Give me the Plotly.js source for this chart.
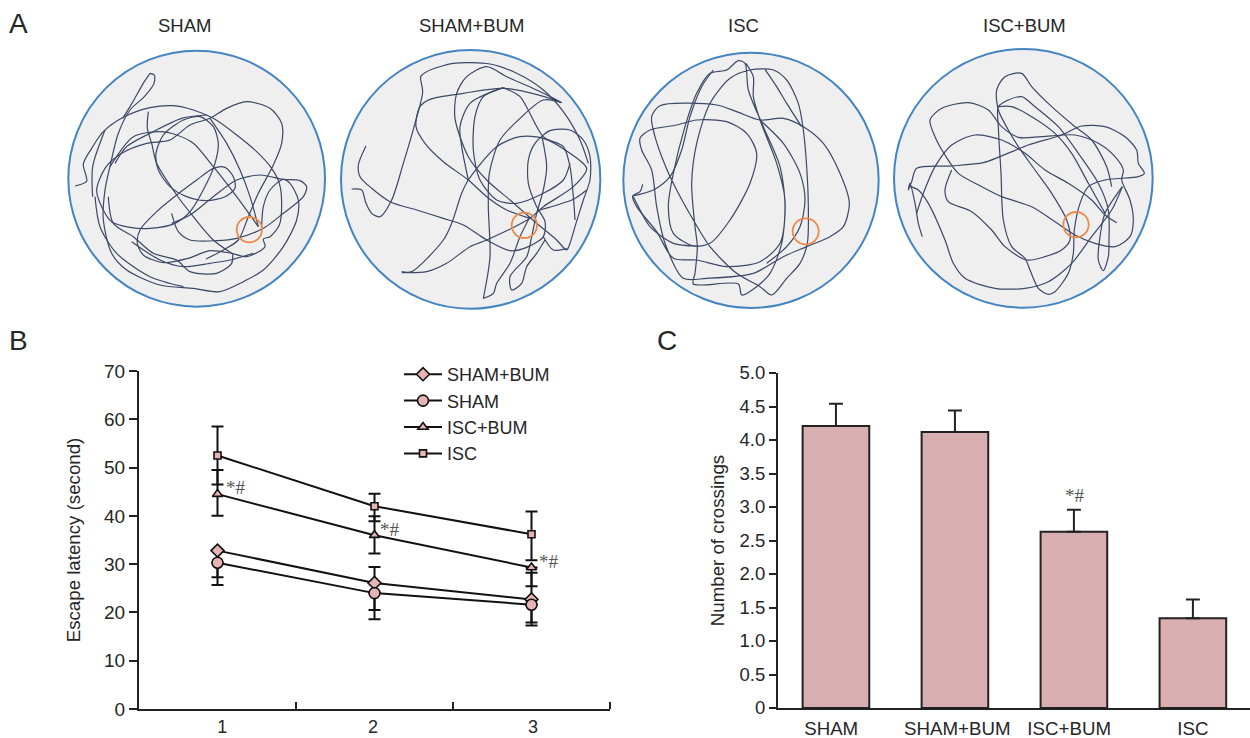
<!DOCTYPE html>
<html><head><meta charset="utf-8">
<script src="https://cdn.plot.ly/plotly-3.0.1.min.js"></script>
<style>html,body{margin:0;padding:0;background:#fff}#g{width:1250px;height:738px}</style>
</head><body><div id="g"></div>
<script>
// Panel B
const days=[1,2,3];
const dayTickPos=[1.03,1.99,3.01];
const dayTickText=['1','2','3'];
const isc=[52.5,42,36.2], iscUp=[6,2.6,4.7], iscDn=[6,3.1,5.4];
const iscBum=[44.5,36,29.3], iscBumUp=[5,3.9,0], iscBumDn=[4.5,3.8,3.9];
const shamBum=[32.8,26.1,22.7], shamBumUp=[0,3.3,5.5], shamBumDn=[5.5,5.6,4.8];
const sham=[30.3,24,21.6], shamUp=[0,0,0], shamDn=[4.6,5.4,4.3];
// Panel C
const groupPos=[0,1,2,3];
const groupTickPos=[-0.04,1.02,1.96,3];
const groupNames=['SHAM','SHAM+BUM','ISC+BUM','ISC'];
const crossings=[4.21,4.12,2.63,1.34];
const crossingsErr=[0.33,0.32,0.33,0.28];
// Panel A traced swim paths (null = strand gap)
const shamPath=[[75,438],[110,424],[100,372],[125,325],[160,275],[220,232],[300,203],[370,197],[430,210],[490,235],[560,285],[620,335],[665,385],[688,430],[695,490],[688,555],[660,590],[640,597],[645,620],[590,650],[545,640],[480,632],[415,655],[340,668],[280,645],[262,610],[270,570],[320,515],[380,465],[440,420],[490,385],[525,382],[550,410],[555,445],[525,470],[470,482],[410,470],[360,440],[325,390],[318,340],[340,285],[400,240],[450,230],[490,260],[505,310],[495,370],[470,430],[420,515],[375,550],[300,565],[240,562],[185,545],[155,500],[140,450],[165,385],[215,340],[290,310],[360,300],[420,255],[480,235],[530,205],[590,185],[660,205],[695,250],[695,310],[670,375],[625,460],[595,530],[565,600],[520,630],[468,657],null,
[300,100],[313,105],[312,130],[283,170],[240,210],[205,280],[182,370],[165,450],[160,540],[185,640],[230,690],[330,735],[430,745],[510,755],[580,725],[640,690],[700,620],[740,540],[745,480],[720,430],[700,418],[660,450],[640,500],[635,560],null,
[300,100],[283,125],[240,200],[218,235],null,
[295,215],[292,265],[305,310],[320,370],[380,465],[430,530],[490,600],[545,640],null,
[365,520],[385,575],[420,600],[500,602],[560,595],[640,565],[700,520],[760,470],[770,440],[750,422],[700,418],[630,405],[560,420],[490,470],[420,525],[365,550],null,
[128,470],[128,380],[165,270],null,
[180,380],[250,290],[330,275],[380,285],[430,310],[490,380],[560,470],[625,560],null,
[480,235],[530,310],[570,390],[600,470],[625,560],null,
[175,470],[190,550],[250,590],[310,640],[380,660],[420,695],[500,700],[545,670],[548,640],null,
[135,470],[150,560],[200,640],[300,710],[400,740],null,
[245,605],[330,660],[400,680],[480,670],[540,660],[610,640],null,
[195,370],[230,320],[300,280],[395,235],[470,225]];
const shamBumPath=[[108,318],[85,375],[90,410],[125,445],[180,485],[260,510],[340,535],[400,555],[470,600],[540,632],[590,622],[640,590],[645,545],[620,500],[595,430],[595,360],[615,310],[660,272],[720,270],[760,300],[780,350],[780,420],[760,480],[735,560],[720,610],[710,630],[680,600],[620,550],[540,480],[470,420],[415,350],[375,235],[380,160],[410,110],[470,80],[530,110],[620,150],[695,188],[660,175],[520,145],[400,160],[300,178],[270,200],[258,260],[285,310],[340,365],[415,420],[470,470],[530,510],[600,535],null,
[65,447],[95,450],[108,490],[125,520],[150,530],[185,480],[220,370],[255,250],[278,155],[272,110],[290,95],[370,70],[480,72],[560,100],[640,150],[700,215],[750,300],[775,370],null,
[215,695],[245,695],[340,600],[365,550],[395,460],[415,420],[500,320],[570,290],[640,295],[720,340],[770,385],[730,440],[640,500],[600,535],[470,600],[420,620],[350,670],[290,695],[215,698],null,
[630,510],[730,478],[770,450],null,
[636,290],[650,380],[640,450],[620,520],[605,590],[590,650],[540,710],[545,750],[575,730],[590,680],[620,640],[645,600],null,
[460,775],[480,650],[475,500],[478,400],[510,300],[570,235],[640,180],[695,188],null,
[460,775],[490,760],[500,730],[540,670],[570,590],[600,530],null,
[520,143],[570,170],[640,290],[700,320],[720,380],[730,470],[735,540],null,
[520,143],[460,170],[435,230],[430,330],[450,420],[500,480],[560,490],[640,460],[700,420],[720,370],null,
[520,143],[420,190],[390,260],[395,320],[415,420],null,
[640,590],[670,630],[710,625]];
const iscPath=[[98,433],[90,455],[68,468],[80,500],[140,575],[190,655],[260,660],[350,680],[450,665],[510,610],[525,500],[510,380],[460,260],[415,150],[405,70],[385,62],[350,90],[300,100],[260,160],[225,260],[190,400],[175,500],[190,580],[250,618],[300,610],[360,540],[420,430],[440,340],[410,280],[350,245],[260,240],[200,255],[120,270],[90,295],[95,330],[125,390],[140,500],[165,610],[220,715],[290,715],[430,700],[520,650],[590,620],[660,590],[700,560],[718,490],[690,400],[640,310],[580,260],[520,235],[450,240],[380,215],[320,195],[150,197],[125,230],[135,290],[165,375],[200,450],[250,540],[300,620],[380,700],[450,740],[485,765],[530,715],[570,670],[592,610],[595,500],[590,380],[580,270],[565,190],[530,120],[490,90],[420,90],[360,115],[300,190],[260,310],[245,430],[255,560],[262,620],[255,700],[250,732],[385,732],[395,765],[440,740],[480,700],[515,610],[525,480],[500,370],[450,240],[430,170],[430,110],[408,70],null,
[68,468],[130,450],[180,410],[215,330],[240,230],[275,140],[310,90],null,
[70,470],[80,490],[120,560],[190,610],[260,618],null,
[450,240],[520,310],[570,400],[585,480],[570,560],[530,620],[470,670],null,
[465,88],[500,140],[530,190],[575,260]];
const iscBumPath=[[112,590],[100,550],[90,490],[75,430],[70,450],[80,425],[95,385],[200,378],[295,368],[345,350],[430,315],[530,285],[590,258],[660,260],[720,290],[755,330],[760,370],[778,400],[760,410],[660,420],[610,440],[585,490],[568,570],[565,640],[550,700],[510,755],[490,763],[460,745],[435,690],[420,655],[380,620],[355,540],[348,400],[340,260],[340,200],[370,180],[410,170],[450,200],[520,260],[580,340],[640,430],[670,510],[672,600],[670,650],[655,692],[640,660],[645,590],[660,520],[712,440],null,
[712,440],[680,510],[620,590],[560,670],[490,725],[420,745],[330,745],[240,715],[205,670],[180,600],[130,490],[100,450],[75,440],null,
[95,520],[115,460],[150,380],[200,315],[270,285],[350,300],[420,340],[480,390],[550,430],[620,480],[660,525],[695,548],null,
[180,345],[220,400],[290,440],[350,470],[440,500],[510,545],[570,585],[630,610],[690,620],[735,590],[745,540],[735,480],[710,420],[715,390],[690,350],[640,310],[570,285],[470,290],[400,292],[350,260],[310,210],[250,188],[170,205],[135,240],[150,290],[180,345],null,
[200,390],[180,450],[190,485],[260,515],[320,570],[360,620],[425,660],[480,650],[530,630],[555,600],[545,540],[500,460],[450,390],[400,320],[370,270],[340,210],[335,150],[360,110],[410,100],[440,140],[500,200],[570,260],[620,300],[665,380],[680,440],null,
[340,200],[380,200],[440,230],[510,280],[560,340],[610,430],[660,520]];
const arenaNames=['SHAM','SHAM+BUM','ISC','ISC+BUM'];
const arenaPaths=[shamPath,shamBumPath,iscPath,iscBumPath];

const W=1250,H=738;
const px=(a,b)=>[a/W,b/W], py=(t,b)=>[1-b/H,1-t/H];
const FONT='"Liberation Sans",Arial,sans-serif', INK='#262626', PINK='#e6b4b4';

const crops=[[50,40,870,810],[330,40,870,810],[610,40,840,810],[885,40,840,810]];
const arenas=[[440,416,385,384],[422,418,389,388],[423,421,383,383],[415,415,388,388]];
const goals=[[598,569,38],[583,556,38],[587,574,39],[573,554,38]];
const titleX=[184,471,743,1024];

const traces=[];
const layout={width:W,height:H,margin:{l:0,r:0,t:0,b:0},paper_bgcolor:'#fff',plot_bgcolor:'rgba(0,0,0,0)',
 font:{family:FONT,color:INK,size:18},shapes:[],annotations:[],showlegend:true,
 legend:{x:399/W,y:1-356/H,xanchor:'left',yanchor:'top',bgcolor:'rgba(0,0,0,0)',font:{size:18,color:INK},itemwidth:38,traceorder:'normal',tracegroupgap:0}};

arenaPaths.forEach((p,i)=>{
 const n=i+3, c=crops[i], a=arenas[i], g=goals[i];
 layout['xaxis'+n]={domain:px(c[0],c[0]+c[2]/3),range:[0,c[2]],visible:false,fixedrange:true,anchor:'y'+n};
 layout['yaxis'+n]={domain:py(c[1],c[1]+c[3]/3),range:[c[3],0],visible:false,fixedrange:true,anchor:'x'+n};
 layout.shapes.push({type:'circle',xref:'x'+n,yref:'y'+n,x0:a[0]-a[2],x1:a[0]+a[2],y0:a[1]-a[3],y1:a[1]+a[3],layer:'below',fillcolor:'#efefef',line:{color:'#4484c0',width:2}});
 traces.push({type:'scatter',mode:'lines',x:p.map(q=>q?q[0]:null),y:p.map(q=>q?q[1]:null),xaxis:'x'+n,yaxis:'y'+n,showlegend:false,hoverinfo:'skip',connectgaps:false,line:{color:'#3c4866',width:1.2,shape:'spline',smoothing:0.8}});
 layout.shapes.push({type:'circle',xref:'x'+n,yref:'y'+n,x0:g[0]-g[2],x1:g[0]+g[2],y0:g[1]-g[2],y1:g[1]+g[2],line:{color:'#ec8a4a',width:1.8}});
 layout.annotations.push({xref:'paper',yref:'paper',x:titleX[i]/W,y:1-25/H,text:arenaNames[i],showarrow:false,xanchor:'center',yanchor:'middle',font:{size:18.5,color:INK}});
});

function lineTrace(name,y,up,dn,sym,size){
 return {type:'scatter',mode:'lines+markers',name,x:days,y,xaxis:'x',yaxis:'y',cliponaxis:false,
  line:{color:'#111',width:2},marker:{symbol:sym,size,color:PINK,line:{color:'#111',width:1.6}},
  error_y:{type:'data',symmetric:false,array:up,arrayminus:dn,color:'#111',thickness:2,width:6}};
}
traces.push(lineTrace('SHAM+BUM',shamBum,shamBumUp,shamBumDn,'diamond',10));
traces.push(lineTrace('SHAM',sham,shamUp,shamDn,'circle',11));
traces.push(lineTrace('ISC+BUM',iscBum,iscBumUp,iscBumDn,'triangle-up',9));
traces.push(lineTrace('ISC',isc,iscUp,iscDn,'square',7));
layout.xaxis={domain:px(139,610),range:[0.5,3.5],anchor:'y',fixedrange:true,showgrid:false,zeroline:false,showline:true,linecolor:'#222',linewidth:2,
 tickmode:'array',tickvals:dayTickPos,ticktext:dayTickText,ticks:'',tickfont:{size:18,color:INK},ticklabelstandoff:0,
 minor:{tickmode:'array',tickvals:[1.5,2.5,3.5],ticks:'inside',ticklen:7,tickwidth:2,tickcolor:'#222',showgrid:false}};
layout.yaxis={domain:py(371,709),range:[0,70],anchor:'x',fixedrange:true,showgrid:false,zeroline:false,showline:true,linecolor:'#222',linewidth:2,
 tickmode:'array',tickvals:[0,10,20,30,40,50,60,70],ticks:'outside',ticklen:8,tickwidth:2,tickcolor:'#222',tickfont:{size:19,color:INK},
 title:{text:'Escape latency (second)',standoff:19,font:{size:18.7,color:INK}}};

traces.push({type:'bar',x:groupPos,y:crossings,xaxis:'x2',yaxis:'y2',width:0.56,showlegend:false,cliponaxis:false,
 marker:{color:'#d9aeb0',line:{color:'#222',width:2}},
 error_y:{type:'data',symmetric:false,array:crossingsErr,arrayminus:[0,0,0,0],color:'#222',thickness:2,width:7}});
layout.xaxis2={domain:px(778,1250),range:[-0.487,3.48],anchor:'y2',fixedrange:true,showgrid:false,zeroline:false,showline:true,linecolor:'#222',linewidth:2,
 tickmode:'array',tickvals:groupTickPos,ticktext:groupNames,ticks:'',tickfont:{size:18.7,color:INK},ticklabelstandoff:3};
layout.yaxis2={domain:py(373,708),range:[0,5],anchor:'x2',fixedrange:true,showgrid:false,zeroline:false,showline:true,linecolor:'#222',linewidth:2,
 tickmode:'array',tickvals:[0,0.5,1,1.5,2,2.5,3,3.5,4,4.5,5],ticktext:['0','0.5','1.0','1.5','2.0','2.5','3.0','3.5','4.0','4.5','5.0'],
 ticks:'outside',ticklen:7,tickwidth:2,tickcolor:'#222',tickfont:{size:18.5,color:INK},
 title:{text:'Number of crossings',standoff:10,font:{size:18.7,color:INK}}};

const sigB=[[1.12,45.9],[2.1,37.1],[3.11,30.6]];
sigB.forEach(s=>layout.annotations.push({xref:'x',yref:'y',x:s[0],y:s[1],text:'*#',showarrow:false,font:{family:'"Liberation Serif",serif',size:19,color:'#555'}}));
layout.annotations.push({xref:'x2',yref:'y2',x:2.01,y:3.17,text:'*#',showarrow:false,font:{family:'"Liberation Serif",serif',size:19,color:'#555'}});
[['A',18,24],['B',18,340],['C',667,340]].forEach(l=>layout.annotations.push({xref:'paper',yref:'paper',x:l[1]/W,y:1-l[2]/H,text:l[0],showarrow:false,xanchor:'center',yanchor:'middle',font:{size:28,color:INK}}));

Plotly.newPlot('g',traces,layout,{displayModeBar:false,staticPlot:true});
</script></body></html>
